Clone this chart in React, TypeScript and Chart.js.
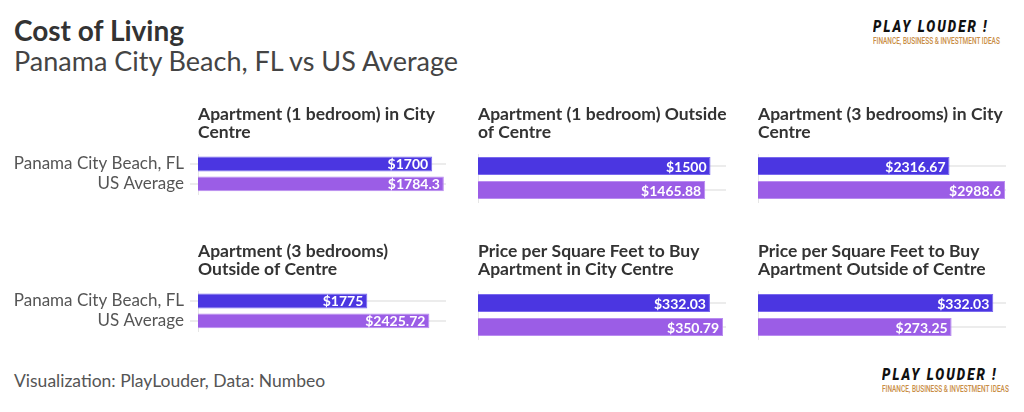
import React, { useEffect, useRef } from "react";
import { Chart, registerables } from "chart.js";

Chart.register(...registerables);

const FONT = "Lato, 'Noto Sans', sans-serif";

const categories = ["Panama City Beach, FL", "US Average"];
const panelTitles: string[][] = [
  ["Apartment (1 bedroom) in City", "Centre"],
  ["Apartment (1 bedroom) Outside", "of Centre"],
  ["Apartment (3 bedrooms) in City", "Centre"],
  ["Apartment (3 bedrooms)", "Outside of Centre"],
  ["Price per Square Feet to Buy", "Apartment in City Centre"],
  ["Price per Square Feet to Buy", "Apartment Outside of Centre"],
];
const panamaValues = [1700, 1500, 2316.67, 1775, 332.03, 332.03];
const usValues = [1784.3, 1465.88, 2988.6, 2425.72, 350.79, 273.25];
const axisMax = [1800, 1600, 3000, 2600, 355, 350];

const barColors = ["#4b36e1", "#9b5de6"];
const barBorders = ["#7a69ee", "#b98cf0"];

const titlePlugin = {
  id: "panelTitle",
  afterDraw(chart: any, _args: any, opts: any) {
    const ctx = chart.ctx;
    ctx.save();
    ctx.font = `bold 17.5px ${FONT}`;
    ctx.fillStyle = "#333333";
    ctx.textAlign = "left";
    ctx.textBaseline = "alphabetic";
    (opts.lines || []).forEach((l: string, i: number) => {
      ctx.fillText(l, chart.chartArea.left, 25 + i * 17.5);
    });
    ctx.restore();
  },
};

const valuePlugin = {
  id: "valueLabels",
  afterDatasetsDraw(chart: any) {
    const ctx = chart.ctx;
    const meta = chart.getDatasetMeta(0);
    const data = chart.data.datasets[0].data;
    ctx.save();
    ctx.font = `bold 14px ${FONT}`;
    ctx.fillStyle = "#ffffff";
    ctx.textAlign = "right";
    ctx.textBaseline = "middle";
    meta.data.forEach((bar: any, i: number) => {
      ctx.fillText("$" + data[i], bar.x - 4, bar.y + 1);
    });
    ctx.restore();
  },
};

type PanelProps = {
  idx: number;
  left: number;
  top: number;
  width: number;
  height: number;
  showLabels: boolean;
  yAxisWidth: number;
  padRight: number;
};

function Panel({ idx, left, top, width, height, showLabels, yAxisWidth, padRight }: PanelProps) {
  const ref = useRef<HTMLCanvasElement>(null);
  useEffect(() => {
    if (!ref.current) return;
    const chart = new Chart(ref.current, {
      type: "bar",
      data: {
        labels: categories,
        datasets: [
          {
            data: [panamaValues[idx], usValues[idx]],
            backgroundColor: barColors,
            borderColor: barBorders,
            borderWidth: 1,
            barPercentage: 0.75,
            categoryPercentage: 1,
          },
        ],
      },
      options: {
        indexAxis: "y",
        animation: false,
        responsive: false,
        maintainAspectRatio: false,
        layout: { padding: { top: 59, bottom: 8, left: 0, right: padRight } },
        plugins: {
          legend: { display: false },
          tooltip: { enabled: false },
          title: { display: false },
          panelTitle: { lines: panelTitles[idx] },
        } as any,
        scales: {
          x: { display: false, min: 0, max: axisMax[idx] },
          y: {
            afterFit: (s: any) => {
              s.width = yAxisWidth;
            },
            grid: {
              color: "#ececec",
              lineWidth: 2,
              drawTicks: showLabels,
              tickLength: 8,
              offset: false,
            },
            border: { display: true, color: "#e6e6e6", width: 1 },
            ticks: {
              display: showLabels,
              color: "#555555",
              font: { family: FONT, size: 17 },
              padding: 6,
            },
          },
        },
      },
      plugins: [titlePlugin, valuePlugin],
    });
    return () => chart.destroy();
  }, []);
  return (
    <canvas
      ref={ref}
      width={width}
      height={height}
      style={{ position: "absolute", left, top, width, height }}
    />
  );
}

function Logo({ left, top }: { left: number; top: number }) {
  return (
    <div style={{ position: "absolute", left, top, width: 150, height: 30 }}>
      <div
        style={{
          position: "absolute",
          left: 0,
          top: 0,
          fontFamily: "Roboto, sans-serif",
          fontWeight: 900,
          fontStyle: "italic",
          fontSize: 17,
          lineHeight: "17px",
          letterSpacing: 2.6,
          color: "#111",
          transform: "scaleX(0.78)",
          transformOrigin: "left top",
          whiteSpace: "nowrap",
        }}
      >
        PLAY LOUDER !
      </div>
      <div
        style={{
          position: "absolute",
          left: 0,
          top: 19,
          fontFamily: "Roboto, sans-serif",
          fontWeight: 500,
          fontSize: 9,
          lineHeight: "9px",
          color: "#c98d45",
          transform: "scaleX(0.72)",
          transformOrigin: "left top",
          whiteSpace: "nowrap",
        }}
      >
        FINANCE, BUSINESS &amp; INVESTMENT IDEAS
      </div>
    </div>
  );
}

export default function App() {
  const panels: PanelProps[] = [
    { idx: 0, left: 0, top: 95, width: 460, height: 115, showLabels: true, yAxisWidth: 198, padRight: 14 },
    { idx: 1, left: 460, top: 95, width: 280, height: 115, showLabels: false, yAxisWidth: 18, padRight: 14 },
    { idx: 2, left: 740, top: 95, width: 284, height: 115, showLabels: false, yAxisWidth: 18, padRight: 18 },
    { idx: 3, left: 0, top: 232, width: 460, height: 115, showLabels: true, yAxisWidth: 198, padRight: 14 },
    { idx: 4, left: 460, top: 232, width: 280, height: 115, showLabels: false, yAxisWidth: 18, padRight: 14 },
    { idx: 5, left: 740, top: 232, width: 284, height: 115, showLabels: false, yAxisWidth: 18, padRight: 18 },
  ];
  return (
    <div
      style={{
        position: "fixed",
        left: 0,
        top: 0,
        width: 1024,
        height: 412,
        background: "#ffffff",
        overflow: "hidden",
      }}
    >
      <div
        style={{
          position: "absolute",
          left: 14,
          top: 13,
          fontFamily: FONT,
          fontWeight: 700,
          fontSize: 28,
          lineHeight: "normal",
          color: "#333333",
          whiteSpace: "nowrap",
        }}
      >
        Cost of Living
      </div>
      <div
        style={{
          position: "absolute",
          left: 14,
          top: 44,
          fontFamily: FONT,
          fontWeight: 400,
          fontSize: 27,
          lineHeight: "normal",
          color: "#444444",
          whiteSpace: "nowrap",
        }}
      >
        Panama City Beach, FL vs US Average
      </div>
      {panels.map((p) => (
        <Panel key={p.idx} {...p} />
      ))}
      <div
        style={{
          position: "absolute",
          left: 14,
          top: 370,
          fontFamily: FONT,
          fontWeight: 400,
          fontSize: 17.5,
          lineHeight: "normal",
          color: "#555555",
          whiteSpace: "nowrap",
        }}
      >
        Visualization: PlayLouder, Data: Numbeo
      </div>
      <Logo left={873} top={18} />
      <Logo left={882} top={366} />
    </div>
  );
}
